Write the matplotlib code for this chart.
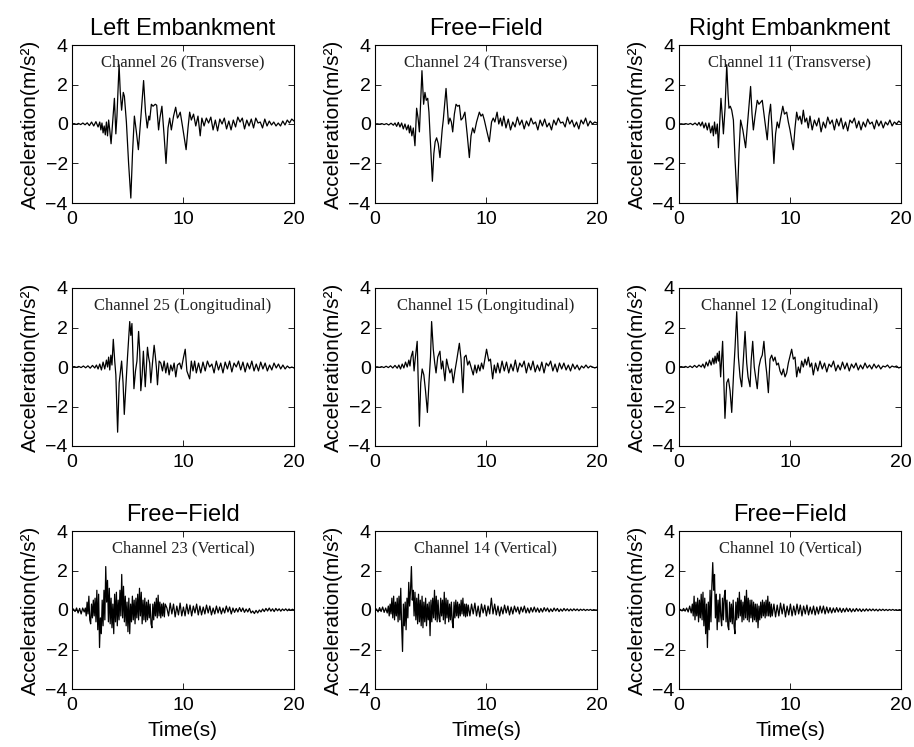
import numpy as np
import matplotlib
matplotlib.use("Agg")
import matplotlib.pyplot as plt

plt.rcParams['font.family'] = ['Liberation Sans', 'DejaVu Sans']

# ---------------- data ----------------
# Channel 26 (Left embankment, transverse)
ch26_early = [0, 0.02, -0.02, 0.03, -0.03, 0.05, -0.04, 0.06, -0.08, 0.1, -0.1, 0.12, -0.15]
ch26_t = [2.5, 2.6, 2.7, 2.8, 2.9, 3.0, 3.1, 3.2, 3.3, 3.4, 3.52, 3.65, 3.82, 3.95, 4.05, 4.24, 4.35,
          4.47, 4.62, 4.72, 4.9, 5.1, 5.3, 5.45, 5.62, 5.8, 5.98, 6.2, 6.45, 6.62, 6.78, 6.92, 7.0,
          7.15, 7.3, 7.5, 7.63, 7.8, 7.92, 8.1, 8.3, 8.47, 8.65, 8.8, 8.95, 9.15, 9.34, 9.5, 9.6,
          9.75, 9.95, 10.28, 10.45, 10.6, 10.75, 10.95, 11.15, 11.35, 11.55, 11.7]
ch26_a = [0.1, -0.3, 0.05, -0.45, -0.1, -0.55, 0.1, -0.6, 0.2, -0.3, -1.0, 0.0, 1.3, -0.5, 0.4, 3.0, 1.6,
          0.7, 1.6, 1.4, 0.1, -2.0, -3.75, -1.5, 0.4, -0.4, -1.3, 0.3, 2.2, 0.6, -0.2, 0.4, 0.2,
          1.0, 0.9, 1.0, 0.95, -0.3, 0.3, 0.9, -0.6, -2.0, -0.2, 0.3, -0.3, 0.4, 0.85, 0.3, 0.4,
          0.6, -0.1, -1.3, -0.2, 0.6, 0.2, 0.5, -0.1, 0.4, -0.6, 0.3]
ch26_tail = [-0.1, 0.3, 0.05, 0.35, -0.3, 0.2, -0.35, 0.25, 0.0, 0.3, -0.25, 0.15, -0.3, 0.2, -0.15,
             0.35, 0.1, 0.3, -0.25, 0.2, -0.1, 0.25, -0.2, 0.3, 0.05, 0.1, -0.2, 0.25, -0.1, 0.15,
             -0.05, 0.1, -0.1, 0.05, -0.1, 0.15, -0.05, 0.2, 0.05, 0.25, 0.15]

# Channel 24 (Free-field, transverse)
ch24_early = [0, 0.01, -0.01, 0.02, -0.03, 0.02, -0.05, 0.04, -0.06]
ch24_t = [1.8, 1.95, 2.1, 2.25, 2.4, 2.55, 2.7, 2.85, 3.0, 3.1, 3.2, 3.32, 3.45, 3.6, 3.75, 3.88, 4.0,
          4.23, 4.38, 4.5, 4.62, 4.75, 4.86, 5.0, 5.17, 5.3, 5.42, 5.55, 5.7, 5.85, 6.05, 6.15, 6.4,
          6.55, 6.62, 6.75, 6.88, 7.0, 7.15, 7.3, 7.45, 7.6, 7.75, 7.9, 8.1, 8.3, 8.5, 8.65, 8.8,
          8.95, 9.15, 9.4, 9.55, 9.7, 9.85, 10.05, 10.3, 10.5, 10.65, 10.8, 11.0, 11.15, 11.3, 11.45, 11.6]
ch24_a = [0.05, -0.12, 0.08, -0.15, 0.05, -0.25, 0.0, -0.3, -0.05, -0.45, -0.1, -0.6, -0.2, -1.1, 0.8, 0.3, -0.4,
          2.7, 1.0, 1.6, 1.2, 1.3, 0.6, -1.0, -2.9, -1.5, -0.9, -0.7, -1.0, -1.7, -0.3, 0.2, 1.8,
          0.6, 0.0, 0.3, 0.1, -0.4, 0.5, 1.0, 0.9, 0.95, 0.2, 0.3, 0.6, -0.5, -1.7, -0.6, -0.2,
          -0.45, 0.1, 0.6, 0.4, 0.5, 0.2, -0.3, -0.9, 0.1, 0.3, 0.1, 0.6, 0.0, 0.3, -0.1, 0.4]
ch24_tail = [-0.2, 0.25, -0.3, 0.1, -0.15, 0.35, -0.05, 0.2, -0.25, 0.15, -0.1, 0.3, 0.0, 0.1, -0.3,
             0.2, -0.1, 0.25, -0.15, 0.05, -0.3, 0.2, -0.05, 0.3, 0.05, 0.1, -0.15, 0.35, 0.0, 0.2,
             -0.15, 0.1, -0.25, 0.2, 0.0, 0.3, -0.1, 0.15, 0.0, 0.1, 0.05]

# Channel 11 (Right embankment, transverse)
ch11_early = [0, 0.01, -0.01, 0.02, -0.02, 0.03, -0.04, 0.05, -0.06]
ch11_t = [1.8, 1.95, 2.1, 2.25, 2.4, 2.55, 2.7, 2.85, 3.0, 3.1, 3.2, 3.32, 3.45, 3.55, 3.78, 3.9, 4.0,
          4.15, 4.3, 4.42, 4.5, 4.62, 4.75, 4.9, 5.05, 5.25, 5.4, 5.55, 5.75, 6.0, 6.2, 6.45, 6.58,
          6.7, 6.85, 7.05, 7.2, 7.35, 7.5, 7.7, 7.95, 8.1, 8.25, 8.4, 8.55, 8.7, 8.85, 9.0, 9.15,
          9.35, 9.5, 9.7, 9.85, 10.0, 10.3, 10.45, 10.6, 10.75, 10.9, 11.05, 11.2, 11.35, 11.5, 11.65, 11.8]
ch11_a = [0.08, -0.1, 0.1, -0.2, 0.05, -0.3, 0.05, -0.45, -0.1, -0.6, 0.1, -0.5, 0.0, -1.2, 1.3, 0.4, -0.5,
          0.8, 3.0, 1.5, 0.8, 0.9, 0.7, 0.2, -1.8, -4.0, -1.5, 0.2, -0.3, -1.2, 0.2, 1.9, 0.5,
          -0.3, 0.4, 1.2, 1.0, 1.1, 1.2, 0.3, -0.8, 0.4, 1.0, -0.4, -2.0, -0.5, 0.1, -0.2, 0.3,
          0.9, 0.5, 0.6, 0.1, -0.3, -1.3, -0.2, 0.6, 0.2, 0.4, 0.0, 0.7, 0.1, 0.3, -0.2, 0.4]
ch11_tail = [-0.3, 0.2, -0.1, 0.3, -0.4, 0.1, -0.2, 0.35, 0.0, 0.2, -0.3, 0.25, -0.1, 0.3, -0.25,
             0.1, -0.35, 0.2, 0.05, 0.3, -0.2, 0.15, -0.3, 0.1, -0.15, 0.25, 0.0, 0.1, -0.25, 0.2,
             -0.1, 0.15, -0.2, 0.1, -0.05, 0.2, -0.1, 0.1, 0.0, 0.15, 0.05]

# Channel 25 (Left embankment, longitudinal)
ch25_early = [0, 0.02, -0.02, 0.03, -0.03, 0.05, -0.04, 0.06, -0.06, 0.08, -0.05]
ch25_t = [2.2, 2.35, 2.5, 2.65, 2.8, 2.95, 3.1, 3.2, 3.3, 3.4, 3.5, 3.6, 3.72, 3.85, 3.95, 4.11, 4.25,
          4.35, 4.47, 4.6, 4.71, 4.85, 5.0, 5.2, 5.3, 5.4, 5.58, 5.72, 5.85, 6.0, 6.1, 6.2, 6.32,
          6.43, 6.6, 6.8, 6.9, 7.0, 7.1, 7.25, 7.4, 7.5, 7.6, 7.7, 7.85, 8.0, 8.15, 8.3, 8.45,
          8.6, 8.75, 8.9, 9.05, 9.2, 9.35, 9.5, 9.7, 9.85, 10.05, 10.2, 10.35, 10.6, 10.75, 10.9,
          11.05, 11.2]
ch25_a = [0.1, -0.1, 0.15, -0.15, 0.25, -0.1, 0.35, 0.0, 0.5, -0.15, 0.6, 0.1, 1.4, 0.3, -0.4, -3.3, -0.8,
          -0.3, 0.3, -0.8, -2.4, -1.0, 0.5, 2.3, 1.6, 2.2, -1.1, -0.2, 0.3, 1.8, 0.8, -1.2, -0.4,
          0.8, -1.0, 1.0, 0.5, 0.2, -0.8, 0.2, 1.1, 0.6, 0.0, -0.9, 0.3, 0.2, -0.2, 0.3, -0.3,
          0.2, -0.4, 0.1, -0.2, 0.2, -0.5, 0.1, 0.2, -0.1, 0.5, 0.9, -0.2, -0.6, 0.3, -0.2,
          0.3, -0.3]
ch25_tail = [0.2, -0.3, 0.25, -0.2, 0.3, 0.0, 0.15, -0.3, 0.3, -0.15, 0.2, -0.3, 0.25, -0.1, 0.3,
             -0.25, 0.2, 0.0, 0.3, -0.15, 0.25, -0.25, 0.2, -0.1, 0.3, -0.2, 0.15, -0.2, 0.25, -0.1,
             0.2, -0.2, 0.1, -0.15, 0.2, -0.05, 0.15, -0.1, 0.1, -0.1, 0.05, -0.05, 0.0, -0.05]

# Channel 15 (Free-field, longitudinal)
ch15_early = [0, 0.01, -0.02, 0.02, -0.03, 0.04, -0.03, 0.06, -0.05, 0.08, -0.06]
ch15_t = [2.15, 2.3, 2.45, 2.6, 2.75, 2.9, 3.05, 3.15, 3.25, 3.4, 3.52, 3.62, 3.8, 4.0, 4.12, 4.25, 4.4,
          4.55, 4.72, 4.88, 5.0, 5.1, 5.25, 5.38, 5.5, 5.65, 5.85, 5.98, 6.1, 6.3, 6.45, 6.6, 6.75,
          6.9, 7.05, 7.2, 7.35, 7.6, 7.75, 7.92, 8.05, 8.2, 8.35, 8.5, 8.7, 8.85, 9.0, 9.15, 9.3,
          9.45, 9.6, 9.75, 10.05, 10.25, 10.4, 10.6, 10.75, 10.9, 11.05]
ch15_a = [0.1, -0.1, 0.15, -0.05, 0.25, 0.0, 0.35, 0.05, 0.5, 0.8, -0.2, 0.4, 1.3, -3.0, -0.8, -0.1, -0.4,
          -1.2, -2.3, -0.6, 0.5, 2.3, 0.9, 0.2, -0.3, 0.5, 0.8, -0.1, 0.3, -0.7, 0.4, 0.0, -0.3,
          -0.1, -0.8, -0.2, 0.3, 1.2, 0.4, -1.3, 0.5, 0.6, 0.1, 0.3, -0.1, -0.4, 0.1, -0.3, 0.1,
          -0.2, 0.2, -0.1, 0.9, 0.3, 0.4, -0.6, 0.1, -0.3, 0.2]
ch15_tail = [-0.3, 0.3, -0.2, 0.25, -0.3, 0.15, -0.2, 0.35, -0.25, 0.2, 0.0, 0.3, -0.3, 0.2, -0.15,
             0.3, -0.25, 0.1, -0.2, 0.25, -0.3, 0.2, 0.05, 0.3, -0.2, 0.15, -0.25, 0.2, -0.1, 0.2,
             -0.15, 0.1, -0.2, 0.15, -0.1, 0.1, -0.15, 0.05, -0.05, 0.1, -0.05, 0.05, 0.0, -0.05, 0.0]

# Channel 12 (Right embankment, longitudinal)
ch12_early = [0, 0.02, -0.01, 0.03, -0.03, 0.05, -0.03, 0.08, -0.02, 0.1, 0.0]
ch12_t = [2.15, 2.3, 2.45, 2.6, 2.75, 2.9, 3.05, 3.15, 3.25, 3.35, 3.45, 3.55, 3.63, 3.75, 3.93, 4.14,
          4.3, 4.45, 4.6, 4.75, 4.92, 5.05, 5.2, 5.35, 5.5, 5.65, 5.8, 5.95, 6.1, 6.22, 6.4, 6.5,
          6.64, 6.78, 6.9, 7.05, 7.2, 7.35, 7.5, 7.65, 7.8, 7.9, 8.05, 8.2, 8.35, 8.5, 8.65, 8.8,
          8.95, 9.1, 9.25, 9.4, 9.55, 9.7, 9.85, 10.15, 10.3, 10.45, 10.6, 10.75, 10.9, 11.05,
          11.2, 11.35, 11.5, 11.65, 11.8, 11.95, 12.1]
ch12_a = [0.15, -0.05, 0.25, 0.05, 0.35, 0.1, 0.45, 0.15, 0.55, 0.2, 0.7, 0.3, 0.8, -0.5, 1.3, -2.6,
          -0.8, -0.6, -1.2, -2.3, -0.3, 1.0, 2.8, 0.5, -0.5, -1.0, 0.4, 1.8, 0.2, -0.5, -1.0, 0.3,
          1.3, 0.0, -0.5, -1.1, 0.0, 0.4, 0.6, 1.3, 0.2, -0.3, -1.3, 0.4, 0.6, 0.3, 0.5, 0.1,
          0.2, -0.2, -0.4, -0.1, -0.5, -0.3, 0.2, 0.9, 0.4, 0.5, -0.5, 0.0, -0.3, 0.3,
          0.0, 0.4, 0.1, 0.5, 0.0, 0.2, -0.4]
ch12_tail = [0.2, -0.2, 0.3, -0.1, 0.2, -0.25, 0.15, 0.0, 0.3, -0.2, 0.1, -0.15, 0.25, -0.1, 0.2,
             -0.2, 0.15, -0.05, 0.2, -0.15, 0.1, -0.1, 0.2, -0.05, 0.1, -0.1, 0.15, -0.05, 0.1, -0.1,
             0.05, 0.0, 0.1, -0.05, 0.05, 0.0, 0.05, -0.05, 0.0]

# Channel 23 (Free-field, vertical)
ch23_early = [0, 0.05, -0.08, 0.1, -0.15, 0.08, -0.2, 0.1, -0.1]
ch23_main = [0.1, -0.3, 0.4, -0.2, 0.7, -0.5, -0.7, 0.3, -0.4, 0.5,
             -0.3, 0.6, -0.6, 1.0, -1.0, 0.8, -1.9, -0.4, -1.2, 0.5,
             -0.8, 1.0, -0.5, 2.2, 0.4, 1.5, -0.6, 1.1, -0.7, 0.6,
             -0.9, 0.3, -1.2, 0.8, -0.6, 0.9, -0.8, 0.5, -0.5, 1.0,
             -0.3, 1.8, -0.4, 1.2, -0.6, 0.7, -0.8, 0.4, -1.1, 0.6,
             -1.2, 0.3, -0.6, 0.7, -0.5, 0.5, -0.7, 0.6, -0.4, 0.8,
             -0.5, 1.1, -0.3, 0.9, -0.7, 0.5, -0.5, 0.6, -0.6, 0.4,
             -0.5, 0.5, -0.4, 0.3, -0.7, -0.9, 0.3, -0.5, 0.4, -0.3,
             0.6, -0.4, 0.75, -0.3, 0.4, -0.4, 0.3, -0.3, 0.35, -0.35, 0.3]
ch23_tail = [0.1, -0.3, 0.35, -0.2, 0.3, -0.35, 0.2, -0.25, 0.35, -0.3, 0.15, -0.3, 0.3, -0.2, 0.25,
             -0.3, 0.2, -0.15, 0.3, -0.25,
             0.2, -0.25, 0.15, -0.2, 0.25, -0.15, 0.2, -0.25, 0.1, -0.2, 0.2, -0.15, 0.15, -0.2, 0.1,
             -0.15, 0.2, -0.1, 0.15, -0.2,
             0.1, -0.12, 0.08, -0.1, 0.12, -0.08, 0.1, -0.12, 0.05, -0.1, 0.08, -0.15, -0.05, -0.18,
             -0.02, -0.15, 0.0, -0.1, 0.05, -0.08, 0.08, -0.05, 0.1, -0.06, 0.06, -0.08, 0.08, -0.04,
             0.06, -0.06, 0.05, -0.03, 0.06, -0.04, 0.05, -0.02, 0.04, 0.0]

# Channel 14 (Free-field, vertical)
ch14_early = [0, 0.05, -0.1, 0.12, -0.08, 0.15, -0.12, 0.1, -0.15]
ch14_main = [0.2, -0.3, 0.3, -0.2, 0.6, -0.4, 0.7, -0.5, 0.4, -0.3,
             0.6, -0.6, 0.7, -0.5, 1.1, -0.8, -2.1, 0.3, -0.8, 0.4,
             -1.0, 0.6, -0.4, 1.4, 0.2, 1.0, 2.2, 0.5, 1.0, -0.3,
             0.9, -0.5, 0.6, -0.7, 0.8, -0.6, 0.5, -0.8, 0.7, -0.9,
             0.4, -0.6, 0.6, -0.8, 0.3, -0.5, 0.4, -1.3, 0.5, -0.6,
             0.6, -0.4, 1.0, -0.5, 0.7, -0.6, 0.5, -0.4, -0.6, 0.6,
             -0.3, 0.5, -0.5, 0.9, -0.7, 0.6, -0.4, 0.5, -0.6, 0.3,
             -0.5, 0.4, -0.6, -0.9, 0.4, -0.4, 0.5, -0.3, 0.4, -0.4,
             0.3, -0.3, 0.5, -0.2, 0.6, -0.3, 0.3, -0.35, 0.3, -0.3, 0.25]
ch14_tail = [-0.3, 0.3, -0.2, 0.35, -0.3, 0.2, -0.35, 0.3, -0.15, 0.25, -0.3, 0.2, -0.2, 0.6, -0.2,
             0.3, -0.25, 0.2, -0.3, 0.15,
             -0.2, 0.25, -0.15, 0.2, -0.25, 0.15, -0.2, 0.2, -0.1, 0.15, -0.2, 0.15, -0.1, 0.2, -0.15,
             0.1, -0.15, 0.12, -0.1, 0.15,
             -0.1, 0.1, -0.12, 0.08, -0.1, 0.12, -0.06, 0.1, -0.1, 0.06, -0.08, 0.1, -0.05, 0.08,
             -0.08, 0.05, -0.06, 0.08, -0.04, 0.06, -0.05, 0.05, -0.04, 0.06, -0.03, 0.05, -0.04,
             0.04, -0.02, 0.04, -0.03, 0.03, -0.02, 0.03, -0.02, 0.02, 0.0, 0.0]

# Channel 10 (Free-field, vertical)
ch10_early = [0, 0.03, -0.05, 0.08, -0.06, 0.1, -0.1, 0.2, -0.15]
ch10_main = [0.3, -0.3, 0.7, -0.5, 0.4, -0.3, 0.6, -0.6, 0.5, -0.4,
             0.8, -0.5, 0.9, -0.8, 0.6, -1.2, 0.3, -1.9, 0.4, -1.0,
             1.0, -0.6, 1.2, 2.4, 1.0, 1.8, -0.4, 0.8, -1.0, 0.5,
             -0.6, 0.8, -0.3, -0.8, 0.6, -0.5, 0.7, 1.0, -0.6, 0.5,
             -0.8, -1.0, 0.4, -0.6, 0.3, -0.7, 0.5, -0.8, -1.2, 0.4,
             -0.5, 0.6, -0.4, 0.9, -0.3, 0.5, -0.6, 0.4, -0.5, 0.7,
             -0.4, 1.0, -0.5, 0.6, -0.6, 0.5, -0.4, 0.5, -0.6, 0.4,
             -0.5, 0.3, -0.6, 0.3, -0.9, 0.2, -0.5, 0.4, -0.4, 0.5,
             -0.3, 0.4, -0.4, 0.5, -0.3, 0.7, -0.3, 0.4, -0.35, 0.3, -0.3]
ch10_tail = [0.3, -0.35, 0.25, -0.3, 0.35, -0.2, 0.3, -0.35, 0.2, -0.25, 0.3, -0.3, 0.2, -0.25, 0.3,
             -0.2, 0.25, -0.3,
             0.2, -0.2, 0.25, -0.25, 0.15, -0.2, 0.2, -0.25, 0.15, -0.2, 0.2, -0.15, 0.2, -0.2, 0.15,
             -0.15,
             0.12, -0.15, 0.1, -0.12, 0.12, -0.1, 0.1, -0.12, 0.08, -0.1, 0.1, -0.08, 0.08, -0.1,
             0.06, -0.08, 0.08, -0.06, 0.06, -0.08, 0.05, -0.06, 0.06, -0.05, 0.05, -0.04, 0.05,
             -0.04, 0.04, -0.05, 0.04, -0.03, 0.04, -0.03, 0.03, -0.03, 0.03, -0.02, 0.03, -0.02,
             0.02, -0.02, 0.02, 0.0]

titles = [["Left Embankment", "Free\u2212Field", "Right Embankment"],
          ["", "", ""],
          ["Free\u2212Field", "", "Free\u2212Field"]]
labels = [["Channel 26 (Transverse)", "Channel 24 (Transverse)", "Channel 11 (Transverse)"],
          ["Channel 25 (Longitudinal)", "Channel 15 (Longitudinal)", "Channel 12 (Longitudinal)"],
          ["Channel 23 (Vertical)", "Channel 14 (Vertical)", "Channel 10 (Vertical)"]]
x_ticks = [0, 10, 20]
y_ticks = [-4, -2, 0, 2, 4]


def horiz_series(early, t_act, a_act, tail):
    t0 = np.linspace(0, t_act[0] - 0.15, len(early))
    t2 = np.linspace(t_act[-1] + 0.2, 20, len(tail))
    return (np.concatenate([t0, t_act, t2]),
            np.concatenate([early, a_act, tail]))


def vert_series(early, main, tail):
    t0 = np.linspace(0, 1.1, len(early))
    t1 = np.linspace(1.2, 8.4, len(main))
    t2 = np.linspace(8.55, 20, len(tail))
    return (np.concatenate([t0, t1, t2]),
            np.concatenate([early, main, tail]))


series = [
    [horiz_series(ch26_early, ch26_t, ch26_a, ch26_tail),
     horiz_series(ch24_early, ch24_t, ch24_a, ch24_tail),
     horiz_series(ch11_early, ch11_t, ch11_a, ch11_tail)],
    [horiz_series(ch25_early, ch25_t, ch25_a, ch25_tail),
     horiz_series(ch15_early, ch15_t, ch15_a, ch15_tail),
     horiz_series(ch12_early, ch12_t, ch12_a, ch12_tail)],
    [vert_series(ch23_early, ch23_main, ch23_tail),
     vert_series(ch14_early, ch14_main, ch14_tail),
     vert_series(ch10_early, ch10_main, ch10_tail)],
]

# ---------------- layout ----------------
W, H = 914, 747
fig = plt.figure(figsize=(W / 100, H / 100), dpi=100)
lefts = [72, 375, 679]
tops = [45, 288, 531]
aw, ah = 222, 158

for r in range(3):
    for c in range(3):
        ax = fig.add_axes([lefts[c] / W, 1 - (tops[r] + ah) / H, aw / W, ah / H])
        t, a = series[r][c]
        ax.plot(t, a, color='black', lw=0.9)
        ax.set_xlim(0, 20)
        ax.set_ylim(-4, 4)
        ax.set_xticks(x_ticks)
        ax.set_yticks(y_ticks)
        ax.set_yticklabels([("\u2212%d" % -v) if v < 0 else str(v) for v in y_ticks])
        ax.tick_params(direction='in', top=True, right=True, length=4, width=0.6,
                       labelsize=14, colors='black')
        ax.tick_params(axis='y', pad=3)
        ax.tick_params(axis='x', pad=6)
        for s in ax.spines.values():
            s.set_linewidth(0.8)
        ax.set_ylabel("Acceleration(m/s\u00b2)", fontsize=15, labelpad=4)
        if titles[r][c]:
            ax.set_title(titles[r][c], fontsize=17, pad=7)
        if r == 2:
            ax.set_xlabel("Time(s)", fontsize=15, labelpad=5)
        ax.text(10, 3.1, labels[r][c], ha='center', va='center',
                fontsize=12, family=['Liberation Serif', 'DejaVu Serif'], color='#222222')

fig.savefig("out.png", dpi=100)
